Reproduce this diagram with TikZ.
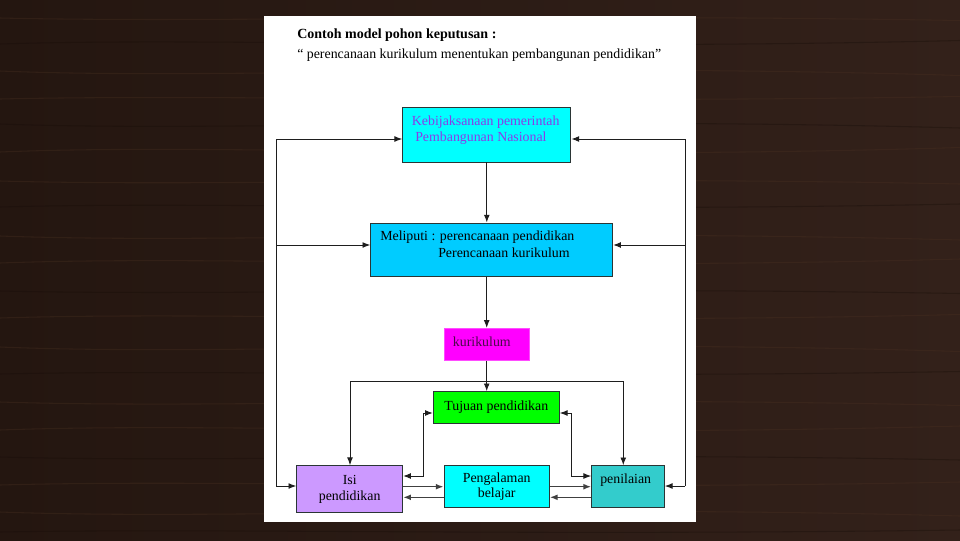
\documentclass[tikz,border=0pt]{standalone}
\usepackage{fontspec}
\setmainfont{Liberation Serif}
\usetikzlibrary{arrows.meta}
\definecolor{woodL}{HTML}{241610}
\definecolor{woodR}{HTML}{33211A}
\definecolor{grain}{HTML}{4A3122}
\definecolor{grainD}{HTML}{170D08}
\definecolor{cyanA}{HTML}{00FFFF}
\definecolor{skyB}{HTML}{00CCFF}
\definecolor{magC}{HTML}{FF00FF}
\definecolor{greenD}{HTML}{00FF00}
\definecolor{lavE}{HTML}{CC99FF}
\definecolor{tealF}{HTML}{33CCCC}
\definecolor{purpT}{HTML}{8A3CE8}
\definecolor{kurT}{HTML}{4A0A4A}
\definecolor{boxline}{HTML}{2A3535}
\definecolor{lineclr}{HTML}{1E1E1E}
\begin{document}
\begin{tikzpicture}[x=0.75pt,y=-0.75pt,
  box/.style={draw=boxline, line width=0.7pt, inner sep=0pt},
  txt/.style={font=\fontsize{10.4}{12}\selectfont},
  lbl/.style={txt, anchor=base west, inner sep=0pt},
  ctr/.style={txt, align=center},
  conn/.style={draw=lineclr, line width=0.7pt},
  bconn/.style={draw=lineclr!85, line width=1.1pt},
  tip/.tip={Latex[length=5.8pt,width=4.4pt]},
  arr/.style={conn, -tip},
  barr/.style={bconn, -tip},
  darr/.style={conn, tip-tip}
]
\useasboundingbox (0,0) rectangle (960,540);
% wooden background
\shade[left color=woodL, right color=woodR] (0,0) rectangle (960,540);
\foreach \y/\a/\c in {18/5/grain,44/-7/grainD,71/9/grain,99/-5/grain,124/8/grainD,152/-9/grain,181/6/grain,207/-6/grainD,236/8/grain,263/-8/grain,291/5/grainD,318/-7/grain,347/9/grain,374/-5/grainD,402/7/grain,430/-8/grain,457/6/grainD,485/-6/grain,512/8/grain,532/-4/grainD}{
  \draw[\c, line width=0.8pt, opacity=0.35] (0,\y) .. controls (220,\y+\a) and (520,\y-\a) .. (960,\y+\a/2);
}
% page
\fill[white] (264,16) rectangle (696,522);
% titles
\node[anchor=base west, inner sep=0pt, font=\bfseries\fontsize{10.5}{12}\selectfont] (title) at (297,38) {Contoh model pohon keputusan :};
\node[anchor=base west, inner sep=0pt, font=\fontsize{10.4}{12}\selectfont] (subtitle) at (297,58) {“ perencanaan kurikulum menentukan pembangunan pendidikan”};
% boxes
\node[box, fill=cyanA, minimum width=126.2pt, minimum height=41.2pt] (kebij) at (486.8,134.5) {};
\node[lbl, text=purpT] (kebijA) at (411.7,125) {Kebijaksanaan pemerintah};
\node[lbl, text=purpT] (kebijB) at (415,141) {Pembangunan Nasional};
\node[box, fill=skyB, minimum width=181.5pt, minimum height=39.8pt] (meliputi) at (491.7,249.5) {};
\node[lbl] (melA) at (380,240) {Meliputi : perencanaan pendidikan};
\node[lbl] (melB) at (438,257) {Perencanaan kurikulum};
\node[box, fill=magC, draw=magC!70!white, minimum width=64pt, minimum height=23.8pt] (kur) at (486.7,344.2) {};
\node[lbl, text=kurT] (kurT) at (452.7,346) {kurikulum};
\node[box, fill=greenD, minimum width=94.5pt, minimum height=23.7pt, ctr] (tuj) at (496.3,407.5) {Tujuan pendidikan};
\node[box, fill=lavE, minimum width=79.5pt, minimum height=35.3pt, ctr] (isi) at (349.7,489.2) {Isi\\pendidikan};
\node[box, fill=cyanA, minimum width=79pt, minimum height=31.5pt, ctr, font=\fontsize{10.4}{11}\selectfont] (peng) at (496.7,486.7) {Pengalaman\\belajar};
\node[box, fill=tealF, minimum width=54.5pt, minimum height=31.5pt] (pen) at (628,486.7) {};
\node[lbl] (penT) at (600,483) {penilaian};
% outer feedback lines
\coordinate (ltop) at (276,139);
\coordinate (lmid) at (276,245);
\coordinate (lbot) at (276,486);
\coordinate (rtop) at (685,139);
\coordinate (rmid) at (685,245);
\coordinate (rbot) at (685,486);
\draw[conn] (ltop) -- (lbot);
\draw[conn] (rtop) -- (rbot);
\draw[arr] (ltop) -- (ltop -| kebij.west);
\draw[arr] (rtop) -- (rtop -| kebij.east);
\draw[arr] (lmid) -- (lmid -| meliputi.west);
\draw[arr] (rmid) -- (rmid -| meliputi.east);
\draw[arr] (lbot) -- (lbot -| isi.west);
\draw[arr] (rbot) -- (rbot -| pen.east);
% main spine
\draw[arr] (kebij.south) -- (kebij.south |- meliputi.north);
\draw[arr] (kur.north |- meliputi.south) -- (kur.north);
\draw[arr] (kur.south) -- (kur.south |- tuj.north);
% branch to Isi and penilaian
\coordinate (hl) at (350,381);
\coordinate (hr) at (623.3,381);
\draw[conn] (hl) -- (hr);
\draw[arr] (hl) -- (hl |- isi.north);
\draw[arr] (hr) -- (hr |- pen.north);
% Tujuan <-> Isi, Tujuan <-> penilaian
\coordinate (tl) at (423.3,413);
\coordinate (tlb) at (423.3,476);
\coordinate (tr) at (571,413);
\coordinate (trb) at (571,476);
\draw[darr] (tl -| tuj.west) -- (tl) -- (tlb) -- (tlb -| isi.east);
\draw[darr] (tr -| tuj.east) -- (tr) -- (trb) -- (trb -| pen.west);
% bottom row
\coordinate (b1) at (0,486.7);
\coordinate (b2) at (0,497.3);
\draw[barr] (isi.east |- b1) -- (peng.west |- b1);
\draw[barr] (peng.west |- b2) -- (isi.east |- b2);
\draw[barr] (peng.east |- b1) -- (pen.west |- b1);
\draw[barr] (pen.west |- b2) -- (peng.east |- b2);
\end{tikzpicture}
\end{document}
